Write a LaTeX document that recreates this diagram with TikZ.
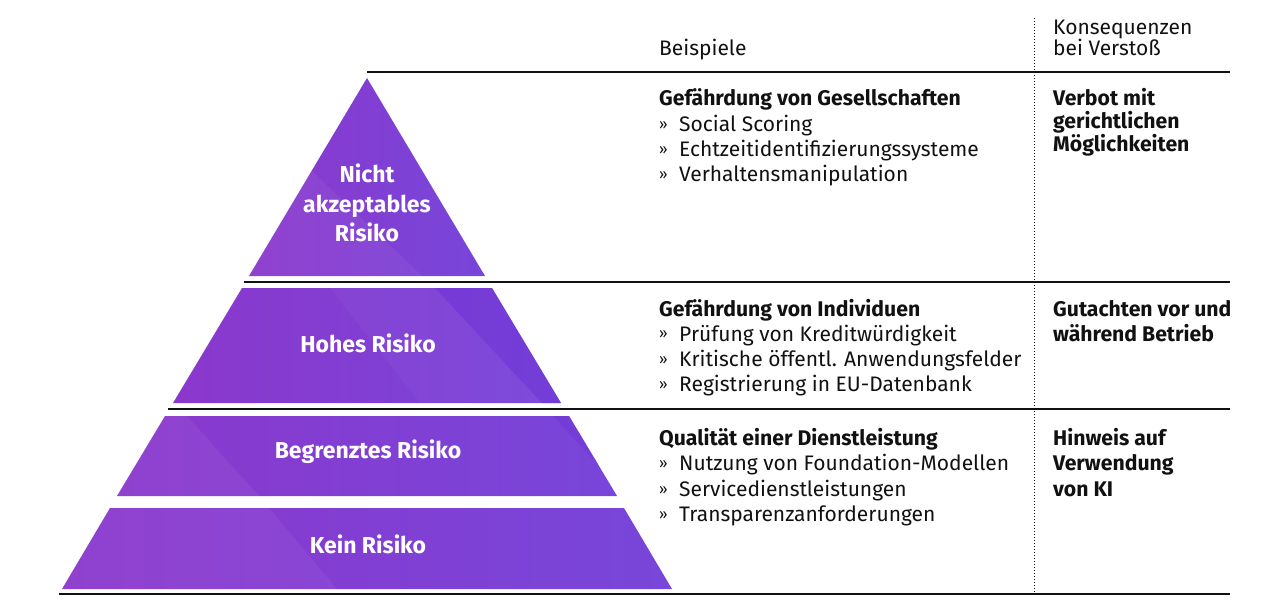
\documentclass[tikz,border=0pt]{standalone}
\usepackage{fontspec}
\setmainfont{Fira Sans}
\definecolor{pl}{HTML}{8B37CC}
\definecolor{pm}{HTML}{7F38D3}
\definecolor{pr}{HTML}{7846DA}
\definecolor{pd}{HTML}{6E34D6}
\definecolor{ink}{HTML}{111111}
\newcommand{\blt}{\makebox[20pt][l]{\fontsize{15}{15}\selectfont\raisebox{2pt}{»}}}
\tikzset{
  pyr/.style={left color=pl, middle color=pm, right color=pr, draw=none},
  sheen/.style={fill=white, opacity=0.05},
  shade2/.style={fill=pd, opacity=0.45},
  rule/.style={draw=ink, line width=1.2pt},
  dots/.style={draw=ink, line width=1pt, dash pattern=on 1pt off 2pt},
  lbl/.style={text=white, font=\fontsize{23}{30}\selectfont\bfseries, anchor=base, inner sep=0pt},
  txt/.style={text=ink, font=\fontsize{21}{25}\selectfont, anchor=base west, inner sep=0pt},
  hd/.style={txt, font=\fontsize{21.2}{25}\selectfont\bfseries},
}
\begin{document}
\begin{tikzpicture}[x=1pt,y=-1pt]
\useasboundingbox (0,0) rectangle (1288,604);
% pyramid layers
\shade[pyr] (367,78) -- (485,276) -- (249,276) -- cycle;
\begin{scope}\clip (367,78) -- (485,276) -- (249,276) -- cycle;
  \fill[sheen] (200,100) -- (311,170) -- (422,276) -- (200,276) -- cycle;
\end{scope}
\node[lbl] (l1a) at (367,183) {Nicht};
\node[lbl] (l1b) at (367,213) {akzeptables};
\node[lbl] (l1c) at (367,242) {Risiko};

\shade[pyr] (242,288) -- (492,288) -- (561,403) -- (173,403) -- cycle;
\begin{scope}\clip (242,288) -- (492,288) -- (561,403) -- (173,403) -- cycle;
  \fill[sheen, opacity=0.03] (330,288) -- (435,288) -- (542,403) -- (420,403) -- cycle;
  \fill[shade2] (435,288) -- (600,288) -- (600,403) -- (542,403) -- cycle;
\end{scope}
\node[lbl] (l2) at (368,352) {Hohes Risiko};

\shade[pyr] (165,416) -- (569,416) -- (617,496) -- (117,496) -- cycle;
\begin{scope}\clip (165,416) -- (569,416) -- (617,496) -- (117,496) -- cycle;
  \fill[sheen] (100,416) -- (187,416) -- (259,496) -- (100,496) -- cycle;
  \fill[shade2] (553,416) -- (640,416) -- (640,496) -- (603,470) -- cycle;
\end{scope}
\node[lbl] (l3) at (368,458) {Begrenztes Risiko};

\shade[pyr] (110,508) -- (624,508) -- (672,589) -- (62,589) -- cycle;
\begin{scope}\clip (110,508) -- (624,508) -- (672,589) -- (62,589) -- cycle;
  \fill[sheen] (50,508) -- (269,508) -- (337,589) -- (50,589) -- cycle;
\end{scope}
\node[lbl] (l4) at (368,553) {Kein Risiko};

% rules
\coordinate (r1a) at (367,72);  \coordinate (r1b) at (1230,72);
\coordinate (r2a) at (244,282); \coordinate (r2b) at (1230,282);
\coordinate (r3a) at (168,409); \coordinate (r3b) at (1230,409);
\coordinate (r4a) at (59,594);  \coordinate (r4b) at (1230,594);
\coordinate (va) at (1034,18);  \coordinate (vb) at (1034,594);
\draw[rule] (r1a) -- (r1b);
\draw[rule] (r2a) -- (r2b);
\draw[rule] (r3a) -- (r3b);
\draw[rule] (r4a) -- (r4b);
\draw[dots] (va) -- (vb);

% header
\node[txt] (h1) at (659,56) {Beispiele};
\node[txt] (h2a) at (1053,35) {Konsequenzen};
\node[txt] (h2b) at (1053,56) {bei Verstoß};

% row 1
\node[hd] (a0) at (659,106) {Gefährdung von Gesellschaften};
\node[txt] (a1) at (659,132) {\blt Social Scoring};
\node[txt] (a2) at (659,157) {\blt Echtzeitidentifizierungssysteme};
\node[txt] (a3) at (659,182) {\blt Verhaltensmanipulation};
\node[hd] (k1a) at (1053,106) {Verbot mit};
\node[hd] (k1b) at (1053,129) {gerichtlichen};
\node[hd] (k1c) at (1053,152) {Möglichkeiten};

% row 2
\node[hd] (b0) at (659,316) {Gefährdung von Individuen};
\node[txt] (b1) at (659,341) {\blt Prüfung von Kreditwürdigkeit};
\node[txt] (b2) at (659,366) {\blt Kritische öffentl. Anwendungsfelder};
\node[txt] (b3) at (659,391) {\blt Registrierung in EU-Datenbank};
\node[hd] (k2a) at (1053,316) {Gutachten vor und};
\node[hd] (k2b) at (1053,341) {während Betrieb};

% row 3
\node[hd] (c0) at (659,445) {Qualität einer Dienstleistung};
\node[txt] (c1) at (659,470) {\blt Nutzung von Foundation-Modellen};
\node[txt] (c2) at (659,496) {\blt Servicedienstleistungen};
\node[txt] (c3) at (659,521) {\blt Transparenzanforderungen};
\node[hd] (k3a) at (1053,445) {Hinweis auf};
\node[hd] (k3b) at (1053,470) {Verwendung};
\node[hd] (k3c) at (1053,496) {von KI};
\end{tikzpicture}
\end{document}
